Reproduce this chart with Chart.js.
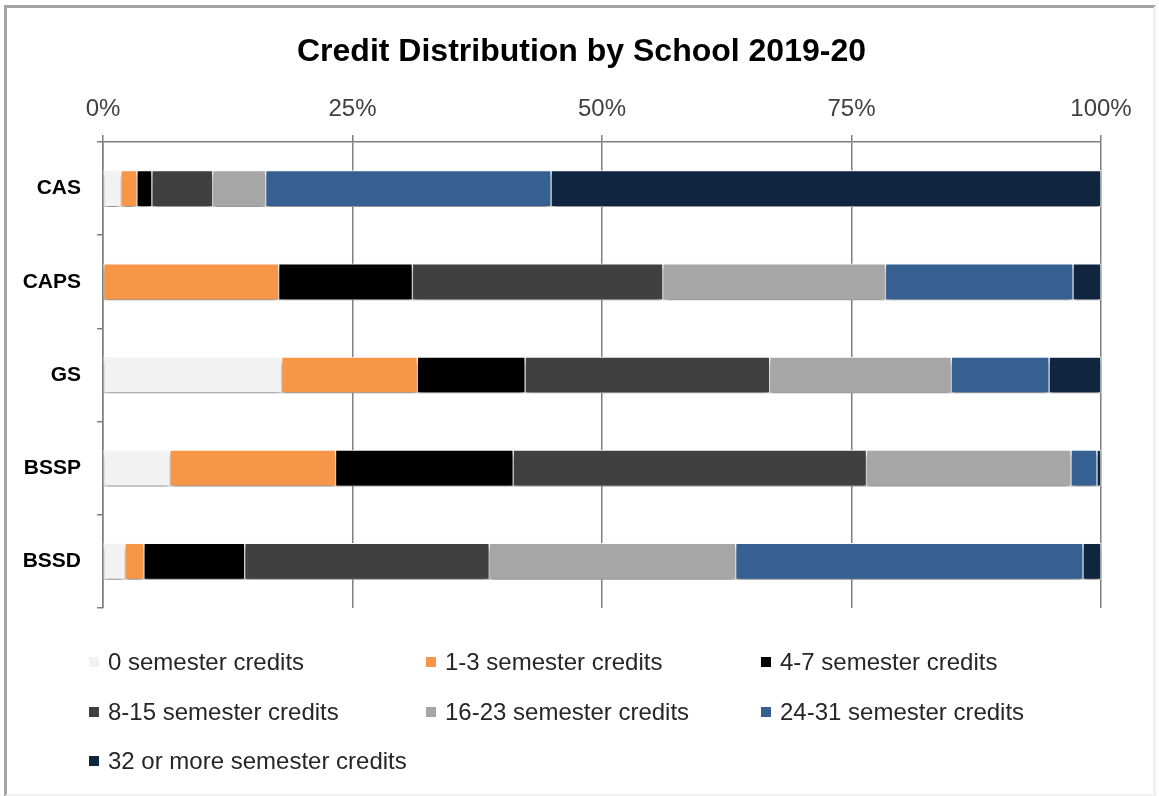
<!DOCTYPE html>
<html>
<head>
<meta charset="utf-8">
<title>Credit Distribution by School 2019-20</title>
<script src="https://cdn.jsdelivr.net/npm/chart.js@4.4.1/dist/chart.umd.min.js"></script>
<style>
  html, body { margin: 0; padding: 0; background: #fff; }
  #wrap { position: relative; width: 1159px; height: 796px; }
  #frame {
    position: absolute; left: 4px; top: 5px; width: 1146px; height: 786px;
    border: 3px solid; border-color: #a3a3a3 #f0f0f0 #f0f0f0 #a3a3a3;
    pointer-events: none;
  }
</style>
</head>
<body>
<div id="wrap">
  <canvas id="creditChart" width="1159" height="796"></canvas>
  <div id="frame"></div>
</div>
<script>
const chartTitle = "Credit Distribution by School 2019-20";
const schools = ["CAS", "CAPS", "GS", "BSSP", "BSSD"];
const creditLabels = [
  "0 semester credits",
  "1-3 semester credits",
  "4-7 semester credits",
  "8-15 semester credits",
  "16-23 semester credits",
  "24-31 semester credits",
  "32 or more semester credits"
];
// percent of students in each credit band, per school
const credits0 = [1.8, 0, 17.9, 6.7, 2.2];
const credits1to3 = [1.6, 17.6, 13.6, 16.6, 1.9];
const credits4to7 = [1.5, 13.4, 10.8, 17.8, 10.1];
const credits8to15 = [6.1, 25.1, 24.5, 35.4, 24.5];
const credits16to23 = [5.3, 22.3, 18.2, 20.5, 24.7];
const credits24to31 = [28.6, 18.8, 9.8, 2.6, 34.8];
const credits32plus = [55.1, 2.8, 5.2, 0.4, 1.8];
const percentTicks = [0, 25, 50, 75, 100];

const bandColors = ["#f2f2f2", "#f79646", "#000000", "#404040", "#a6a6a6", "#376092", "#10253f"];
const bandValues = [credits0, credits1to3, credits4to7, credits8to15, credits16to23, credits24to31, credits32plus];

const FONT = "'Liberation Sans', Arial, sans-serif";

// soft drop shadow under the bars
const barShadow = {
  id: "barShadow",
  beforeDatasetsDraw(chart) {
    const ctx = chart.ctx;
    ctx.save();
    ctx.shadowColor = "rgba(0,0,0,0.45)";
    ctx.shadowBlur = 5;
    ctx.shadowOffsetY = 4;
  },
  afterDatasetsDraw(chart) {
    chart.ctx.restore();
  }
};

// title centred on the whole canvas, not just the layout box
const centredTitle = {
  id: "centredTitle",
  afterDraw(chart) {
    const ctx = chart.ctx;
    ctx.save();
    ctx.font = "bold 32px " + FONT;
    ctx.fillStyle = "#000000";
    ctx.textAlign = "center";
    ctx.textBaseline = "middle";
    ctx.fillText(chartTitle, chart.width / 2 + 2, 52);
    ctx.restore();
  }
};

// three-column legend under the plot
const gridLegend = {
  id: "gridLegend",
  afterDraw(chart) {
    const ctx = chart.ctx;
    const cols = [89, 426, 761];
    const rows = [662, 712, 761];
    ctx.save();
    ctx.font = "24px " + FONT;
    ctx.textBaseline = "middle";
    chart.data.datasets.forEach((ds, i) => {
      const x = cols[i % 3];
      const y = rows[Math.floor(i / 3)];
      ctx.fillStyle = ds.backgroundColor;
      ctx.fillRect(x, y - 5, 10, 10);
      ctx.fillStyle = "#262626";
      ctx.fillText(ds.label, x + 19, y + 1);
    });
    ctx.restore();
  }
};

const datasets = creditLabels.map((label, i) => ({
  label: label,
  data: bandValues[i],
  backgroundColor: bandColors[i],
  borderColor: "#ffffff",
  borderWidth: 1,
  borderSkipped: false,
  barThickness: 36
}));

new Chart(document.getElementById("creditChart"), {
  type: "bar",
  data: { labels: schools, datasets: datasets },
  plugins: [barShadow, centredTitle, gridLegend],
  options: {
    indexAxis: "y",
    responsive: false,
    animation: false,
    layout: { padding: { left: 0, right: 58, top: 71.4, bottom: 188 } },
    plugins: {
      legend: { display: false },
      tooltip: { enabled: false },
      title: { display: false }
    },
    scales: {
      x: {
        position: "top",
        stacked: true,
        min: 0,
        max: 100,
        afterBuildTicks(scale) {
          scale.ticks = percentTicks.map(v => ({ value: v }));
        },
        afterFit(scale) { scale.height = 70.6; },
        ticks: {
          callback: v => v + "%",
          color: "#404040",
          font: { family: FONT, size: 24 },
          padding: 11
        },
        grid: { color: "#7f7f7f", lineWidth: 1.5, tickLength: 7 },
        border: { display: true, color: "#7f7f7f", width: 1.5 }
      },
      y: {
        stacked: true,
        afterFit(scale) { scale.width = 103; },
        ticks: {
          color: "#000000",
          font: { family: FONT, size: 21, weight: "bold" },
          padding: 16
        },
        grid: { drawOnChartArea: false, color: "#7f7f7f", lineWidth: 1.5, tickLength: 6, offset: true },
        border: { display: true, color: "#7f7f7f", width: 1.5 }
      }
    }
  }
});
</script>
</body>
</html>
